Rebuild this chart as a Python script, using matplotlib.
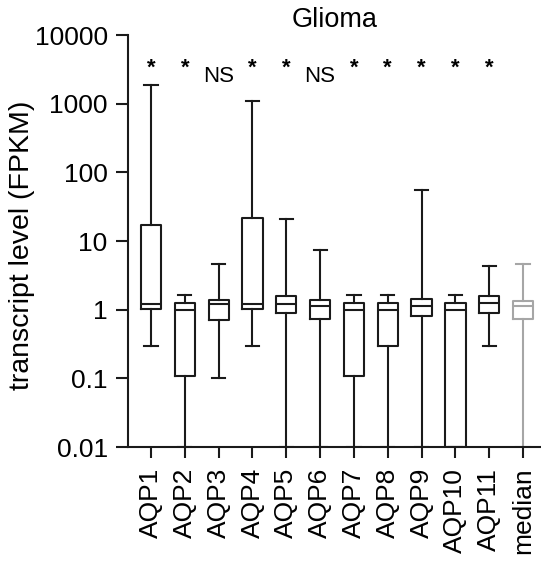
import matplotlib
matplotlib.use('Agg')
import matplotlib.pyplot as plt
from matplotlib.ticker import NullLocator

plt.rcParams['font.family'] = ['Liberation Sans', 'DejaVu Sans']

categories = ['AQP1', 'AQP2', 'AQP3', 'AQP4', 'AQP5', 'AQP6', 'AQP7', 'AQP8',
              'AQP9', 'AQP10', 'AQP11', 'median']
whisker_low = [0.30, 0.01, 0.10, 0.30, 0.01, 0.01, 0.01, 0.01, 0.01, 0.01, 0.30, 0.01]
q1 = [1.04, 0.107, 0.70, 1.04, 0.91, 0.74, 0.107, 0.30, 0.80, 0.01, 0.91, 0.74]
median = [1.20, 1.00, 1.20, 1.20, 1.20, 1.14, 1.00, 1.00, 1.14, 1.00, 1.27, 1.14]
q3 = [17.0, 1.27, 1.37, 22.0, 1.57, 1.37, 1.27, 1.27, 1.44, 1.27, 1.56, 1.32]
whisker_high = [1860, 1.64, 4.6, 1110, 20.6, 7.4, 1.64, 1.64, 55, 1.64, 4.3, 4.6]
significance = ['*', '*', 'NS', '*', '*', 'NS', '*', '*', '*', '*', '*']

y_ticks = [0.01, 0.1, 1, 10, 100, 1000, 10000]
y_tick_labels = ['0.01', '0.1', '1', '10', '100', '1000', '10000']

fig = plt.figure(figsize=(5.41, 5.65), dpi=100)
ax = fig.add_axes([0.2366, 0.2088, 0.7634, 0.7292])

positions = list(range(1, len(categories) + 1))
stats = []
for i in range(len(categories)):
    stats.append(dict(whislo=whisker_low[i], q1=q1[i], med=median[i],
                      q3=q3[i], whishi=whisker_high[i], fliers=[]))

lw = 1.5
def draw(idx, color):
    ax.bxp([stats[i] for i in idx], positions=[positions[i] for i in idx],
           widths=0.6, capwidths=0.39, showfliers=False, patch_artist=False,
           boxprops=dict(color=color, linewidth=lw),
           medianprops=dict(color=color, linewidth=lw),
           whiskerprops=dict(color=color, linewidth=lw),
           capprops=dict(color=color, linewidth=lw),
           manage_ticks=False)

black = '#1a1a1a'
grey = '#a6a6a6'
draw(range(len(categories) - 1), black)
draw([len(categories) - 1], grey)

ax.set_yscale('log')
ax.set_ylim(0.01, 10000)
ax.set_xlim(0.32, 12.53)
ax.set_yticks(y_ticks)
ax.set_yticklabels(y_tick_labels)
ax.yaxis.set_minor_locator(NullLocator())
ax.set_xticks(positions)
ax.set_xticklabels(categories, rotation=90)

for s in ['top', 'right']:
    ax.spines[s].set_visible(False)
for s in ['left', 'bottom']:
    ax.spines[s].set_linewidth(lw)
    ax.spines[s].set_color(black)
ax.tick_params(axis='y', length=8.6, width=lw, labelsize=19, pad=6, color=black)
ax.tick_params(axis='x', length=8, width=lw, labelsize=19, pad=7, color=black)

fig.text(22 / 541, 1 - 245 / 565, 'transcript level (FPKM)', rotation=90,
         ha='center', va='center', fontsize=20.5)
ax.set_title('Glioma', fontsize=19.5, pad=6)

for i, lab in enumerate(significance):
    if lab == 'NS':
        ax.text(positions[i], 2100, lab, ha='center', va='baseline', fontsize=16)
    else:
        ax.text(positions[i], 2700, lab, ha='center', va='baseline', fontsize=16,
                fontweight='bold')

fig.savefig('out.png', dpi=100)
